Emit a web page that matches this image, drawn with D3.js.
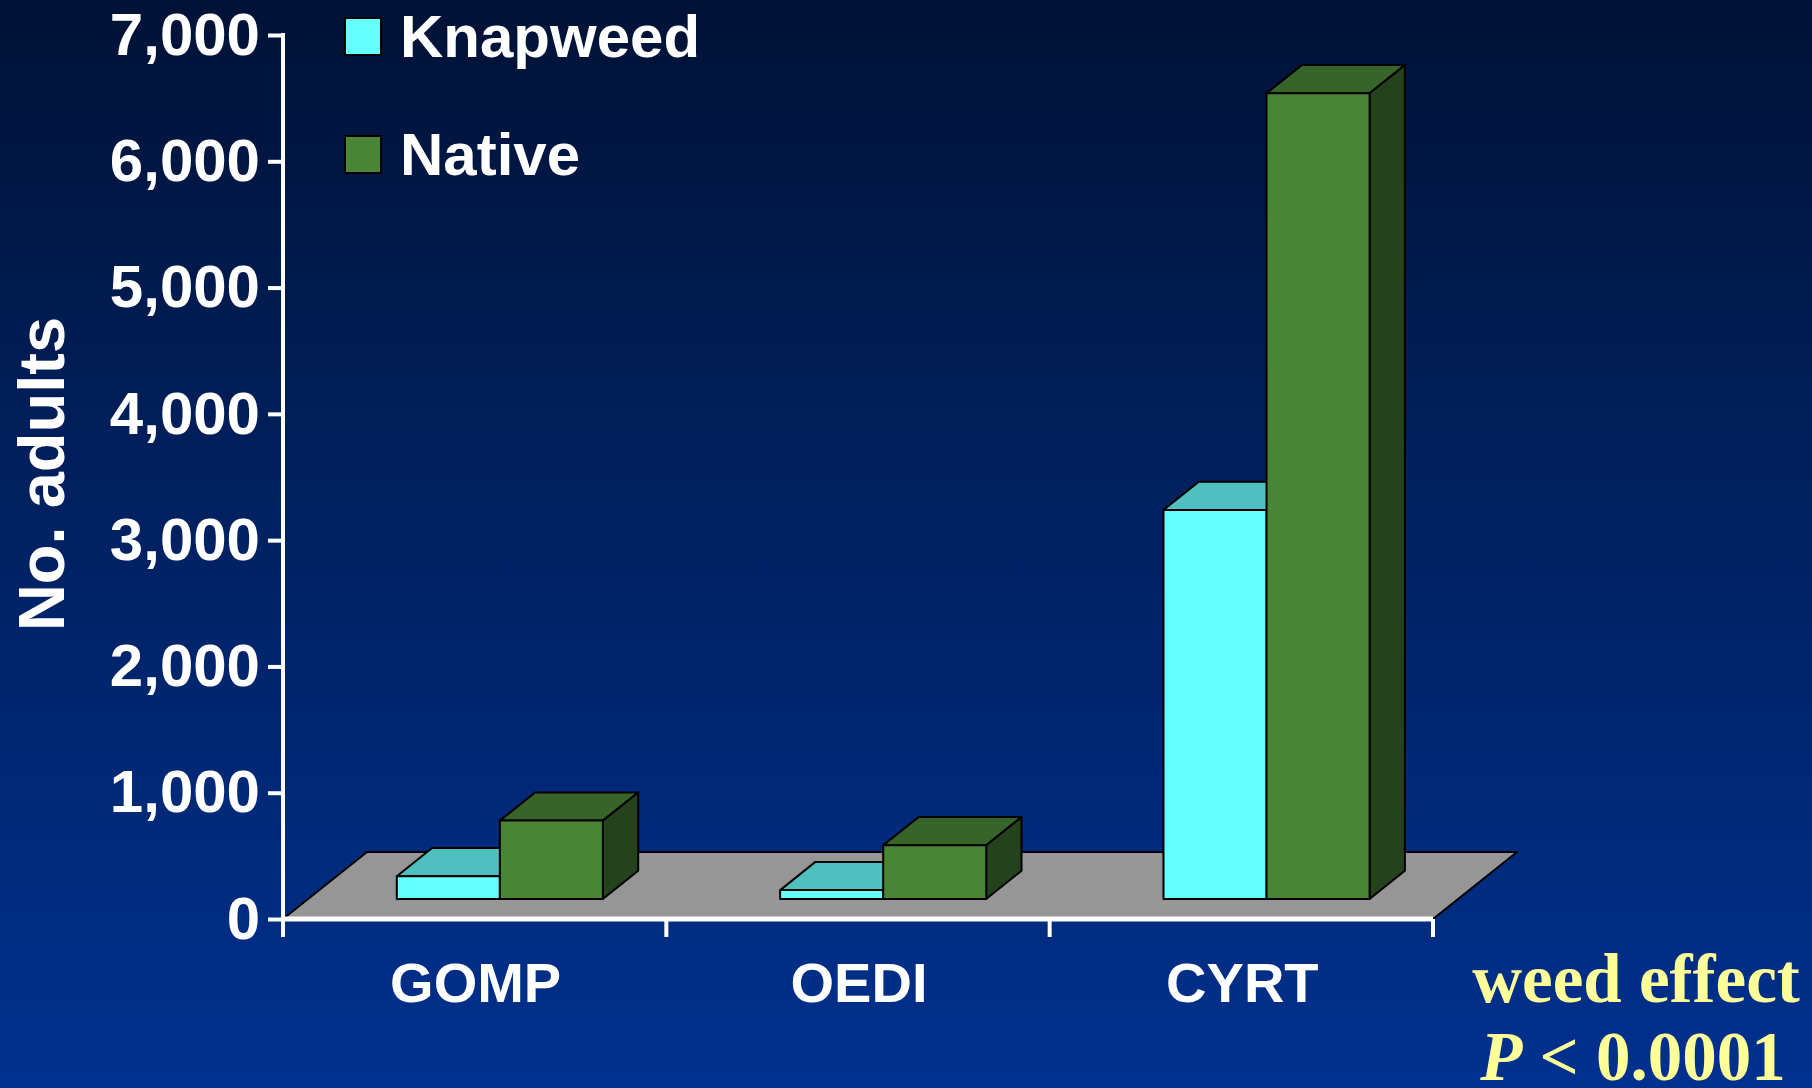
<!DOCTYPE html>
<html>
<head>
<meta charset="utf-8">
<script src="https://cdn.jsdelivr.net/npm/d3@7"></script>
<style>
  body { margin: 0; background: #00246a; }
  text { font-family: "Liberation Sans", Arial, sans-serif; font-weight: bold; }
</style>
</head>
<body>
<svg id="chart" width="1812" height="1088"></svg>
<script>
// data
var categories = ["GOMP", "OEDI", "CYRT"];
var seriesNames = ["Knapweed", "Native"];
var knapweedVals = [180, 70, 3080];
var nativeVals = [620, 425, 6380];
var yTicks = [0, 1000, 2000, 3000, 4000, 5000, 6000, 7000];

var frontColor = { Knapweed: "#66ffff", Native: "#4a8536" };
var topColor = { Knapweed: "#4fbfbf", Native: "#376429" };
var sideColor = { Knapweed: "#33a0a0", Native: "#24431c" };

var svg = d3.select("#chart"),
  width = +svg.attr("width"),
  height = +svg.attr("height");

// background gradient
var defs = svg.append("defs");
var grad = defs.append("linearGradient")
  .attr("id", "bg")
  .attr("x1", 0).attr("y1", 0).attr("x2", 0).attr("y2", 1);
grad.append("stop").attr("offset", "0%").attr("stop-color", "#001236");
grad.append("stop").attr("offset", "100%").attr("stop-color", "#00318f");
svg.append("rect").attr("width", width).attr("height", height).attr("fill", "url(#bg)");

var y = d3.scaleLinear().domain([0, 7000]).range([919, 35]);
var x = d3.scaleBand().domain(categories).range([283, 1433]);
var xSub = d3.scaleBand().domain(seriesNames).range([0, x.bandwidth()]).paddingOuter(0.86);

// floor depth vector and where bars sit inside it
var depth = [84, -67];
var f0 = 0.30, f1 = 0.72;

// floor
var x0 = x.range()[0], x1 = x.range()[1], yb = y(0);
svg.append("polygon")
  .attr("points", [
    [x0, yb], [x1, yb], [x1 + depth[0], yb + depth[1]], [x0 + depth[0], yb + depth[1]]
  ].map(function(p) { return p.join(","); }).join(" "))
  .attr("fill", "#969696")
  .attr("stroke", "#000")
  .attr("stroke-width", 2)
  .attr("stroke-linejoin", "round");

// bars
var rows = [];
categories.forEach(function(c, i) {
  rows.push({ cat: c, s: "Knapweed", v: knapweedVals[i] });
  rows.push({ cat: c, s: "Native", v: nativeVals[i] });
});

function pts(arr) { return arr.map(function(p) { return p[0].toFixed(1) + "," + p[1].toFixed(1); }).join(" "); }

var bars = svg.append("g").attr("class", "bars")
  .selectAll("g")
  .data(rows)
  .enter().append("g");

bars.each(function(d) {
  var g = d3.select(this);
  var fx = depth[0] * f0, fy = depth[1] * f0;
  var dx = depth[0] * (f1 - f0), dy = depth[1] * (f1 - f0);
  var left = x(d.cat) + xSub(d.s) + fx;
  var right = left + xSub.bandwidth();
  var bottom = y(0) + fy;
  var top = y(d.v) + fy;
  // top face
  g.append("polygon")
    .attr("points", pts([[left, top], [right, top], [right + dx, top + dy], [left + dx, top + dy]]))
    .attr("fill", topColor[d.s]);
  // side face
  g.append("polygon")
    .attr("points", pts([[right, top], [right + dx, top + dy], [right + dx, bottom + dy], [right, bottom]]))
    .attr("fill", sideColor[d.s]);
  // front face
  g.append("rect")
    .attr("x", left).attr("y", top)
    .attr("width", right - left).attr("height", bottom - top)
    .attr("fill", frontColor[d.s]);
  g.selectAll("polygon, rect")
    .attr("stroke", "#000")
    .attr("stroke-width", 2)
    .attr("stroke-linejoin", "round");
});

// y axis
var yAxis = d3.axisLeft(y)
  .tickValues(yTicks)
  .tickFormat(d3.format(","))
  .tickSizeInner(15)
  .tickSizeOuter(0)
  .tickPadding(8);

var yg = svg.append("g").attr("transform", "translate(283,0)").call(yAxis);
yg.select(".domain").remove();
yg.selectAll(".tick line").attr("stroke", "#fff").attr("stroke-width", 4);
yg.selectAll(".tick text")
  .attr("fill", "#fff")
  .style("font-family", "'Liberation Sans', Arial, sans-serif")
  .style("font-weight", "bold")
  .style("font-size", "60px");

svg.append("line")
  .attr("x1", 283).attr("x2", 283)
  .attr("y1", y(7000) - 2).attr("y2", y(0) + 18)
  .attr("stroke", "#fff").attr("stroke-width", 4);

// x axis
svg.append("line")
  .attr("x1", 283).attr("x2", 1433)
  .attr("y1", y(0)).attr("y2", y(0))
  .attr("stroke", "#fff").attr("stroke-width", 5);

svg.append("g").selectAll("line")
  .data(categories)
  .enter().append("line")
  .attr("x1", function(d) { return x(d) + x.bandwidth(); })
  .attr("x2", function(d) { return x(d) + x.bandwidth(); })
  .attr("y1", y(0))
  .attr("y2", y(0) + 18)
  .attr("stroke", "#fff")
  .attr("stroke-width", 4);

svg.append("g").selectAll("text")
  .data(categories)
  .enter().append("text")
  .attr("x", function(d) { return x(d) + x.bandwidth() / 2 + 1; })
  .attr("y", 1002)
  .attr("text-anchor", "middle")
  .attr("fill", "#fff")
  .style("font-size", "56px")
  .text(function(d) { return d; });

// y title
svg.append("text")
  .attr("transform", "translate(64,474) rotate(-90)")
  .attr("text-anchor", "middle")
  .attr("fill", "#fff")
  .style("font-size", "65px")
  .text("No. adults");

// legend
var legend = svg.append("g").selectAll("g")
  .data(seriesNames)
  .enter().append("g")
  .attr("transform", function(d, i) { return "translate(345," + (18 + i * 118) + ")"; });

legend.append("rect")
  .attr("width", 36).attr("height", 37)
  .attr("fill", function(d) { return frontColor[d]; })
  .attr("stroke", "#000")
  .attr("stroke-width", 2);

legend.append("text")
  .attr("x", 55)
  .attr("y", 39)
  .attr("fill", "#fff")
  .style("font-size", "60px")
  .text(function(d) { return d; });

// stats note
var note = svg.append("g")
  .attr("fill", "#ffff99")
  .style("font-family", "'Liberation Serif', 'Times New Roman', serif")
  .style("font-weight", "bold")
  .style("font-size", "69px");

note.append("text")
  .attr("x", 1636).attr("y", 1002)
  .attr("text-anchor", "middle")
  .style("font-family", "'Liberation Serif', 'Times New Roman', serif")
  .text("weed effect");

var p = note.append("text")
  .attr("x", 1633).attr("y", 1080)
  .attr("text-anchor", "middle")
  .style("font-family", "'Liberation Serif', 'Times New Roman', serif");
p.append("tspan").style("font-style", "italic").text("P");
p.append("tspan").text(" < 0.0001");
</script>
</body>
</html>
